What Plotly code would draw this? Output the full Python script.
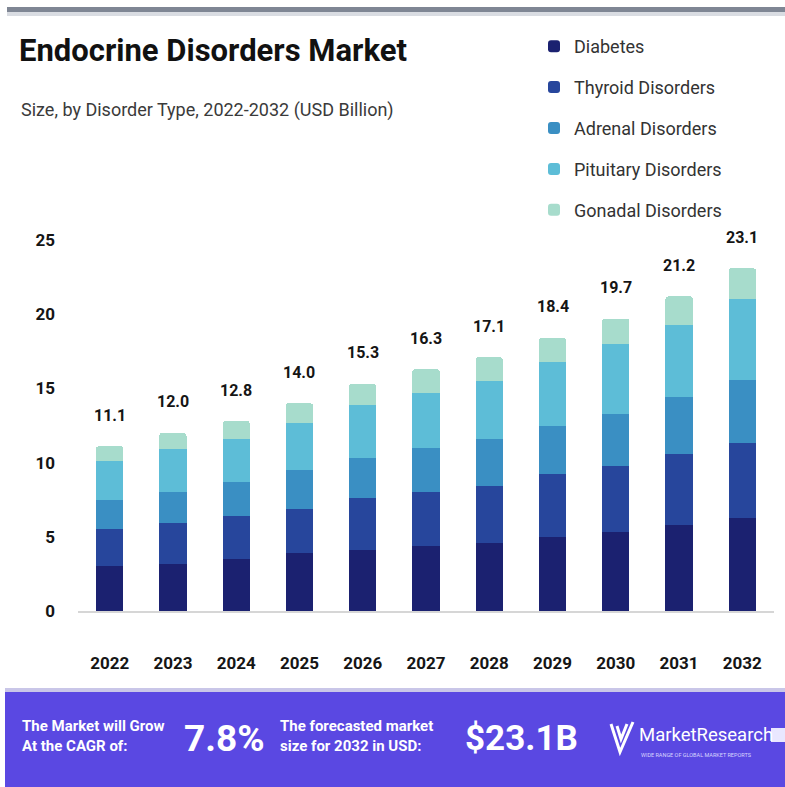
import plotly.graph_objects as go

# Market size by disorder type, USD billion
years = ["2022", "2023", "2024", "2025", "2026", "2027", "2028", "2029", "2030", "2031", "2032"]
diabetes = [3.0, 3.2, 3.5, 3.9, 4.1, 4.4, 4.6, 5.0, 5.3, 5.8, 6.3]
thyroid = [2.5, 2.7, 2.9, 3.0, 3.5, 3.6, 3.8, 4.2, 4.5, 4.8, 5.0]
adrenal = [2.0, 2.1, 2.3, 2.6, 2.7, 3.0, 3.2, 3.3, 3.5, 3.8, 4.3]
pituitary = [2.6, 2.9, 2.9, 3.2, 3.6, 3.7, 3.9, 4.3, 4.7, 4.9, 5.4]
gonadal = [1.0, 1.1, 1.2, 1.3, 1.4, 1.6, 1.6, 1.6, 1.7, 1.9, 2.1]

series = [
    ("Diabetes", diabetes, "#1b2170"),
    ("Thyroid Disorders", thyroid, "#27469c"),
    ("Adrenal Disorders", adrenal, "#3a8fc3"),
    ("Pituitary Disorders", pituitary, "#5dbdd7"),
    ("Gonadal Disorders", gonadal, "#a7dccc"),
]

cagr_text = "7.8%"
forecast_text = "$23.1B"

W, H = 785, 787
L, R, T, B = 78, 774, 240, 611  # plot area in pixels


def px(x):
    return (x - L) / (R - L)


def py(y):
    return (B - y) / (B - T)


FONT = "Roboto"

fig = go.Figure()
for name, vals, color in series:
    fig.add_trace(go.Bar(
        x=years, y=vals, name=name, legendgroup=name,
        marker=dict(color=color, line=dict(width=0)),
    ))

totals = [round(sum(v), 1) for v in zip(*[s[1] for s in series])]

annotations = []
for i, tot in enumerate(totals):
    annotations.append(dict(
        x=i, y=tot, xref="x", yref="y", text=f"<b>{tot:.1f}</b>",
        showarrow=False, yshift=31, font=dict(family=FONT, size=16, color="#151515"),
    ))

# Header
annotations.append(dict(
    x=px(17), y=py(51), xref="paper", yref="paper", xanchor="left", yanchor="middle",
    text="<b>Endocrine Disorders Market</b>", showarrow=False,
    font=dict(family=FONT, size=31, color="#111111"),
))
annotations.append(dict(
    x=px(19), y=py(110), xref="paper", yref="paper", xanchor="left", yanchor="middle",
    text="Size, by Disorder Type, 2022-2032 (USD Billion)", showarrow=False,
    font=dict(family=FONT, size=18, color="#3a3a3a"),
))

# Footer band texts
white = "#ffffff"
annotations += [
    dict(x=px(20), y=py(736), xref="paper", yref="paper", xanchor="left", yanchor="middle",
         text="<b>The Market will Grow<br>At the CAGR of:</b>", showarrow=False, align="left",
         font=dict(family=FONT, size=15, color=white)),
    dict(x=px(182), y=py(738), xref="paper", yref="paper", xanchor="left", yanchor="middle",
         text=f"<b>{cagr_text}</b>", showarrow=False,
         font=dict(family=FONT, size=37, color=white)),
    dict(x=px(278), y=py(736), xref="paper", yref="paper", xanchor="left", yanchor="middle",
         text="<b>The forecasted market<br>size for 2032 in USD:</b>", showarrow=False, align="left",
         font=dict(family=FONT, size=15, color=white)),
    dict(x=px(463), y=py(738), xref="paper", yref="paper", xanchor="left", yanchor="middle",
         text=f"<b>{forecast_text}</b>", showarrow=False,
         font=dict(family=FONT, size=35, color=white)),
    dict(x=px(637), y=py(735), xref="paper", yref="paper", xanchor="left", yanchor="middle",
         text="MarketResearch", showarrow=False,
         font=dict(family=FONT, size=18.5, color=white)),
    dict(x=px(639), y=py(755), xref="paper", yref="paper", xanchor="left", yanchor="middle",
         text="WIDE RANGE OF GLOBAL MARKET REPORTS", showarrow=False,
         font=dict(family=FONT, size=5.5, color="#d9d6ff")),
]

shapes = [
    # top rule
    dict(type="rect", xref="paper", yref="paper", x0=px(7), x1=px(785), y0=py(12), y1=py(7),
         fillcolor="#7f8694", line=dict(width=0), layer="above"),
    dict(type="rect", xref="paper", yref="paper", x0=px(7), x1=px(785), y0=py(16), y1=py(12),
         fillcolor="#d9dce2", line=dict(width=0), layer="above"),
    # footer band
    dict(type="rect", xref="paper", yref="paper", x0=px(5), x1=px(785), y0=py(692), y1=py(688),
         fillcolor="#c9c6e8", line=dict(width=0), layer="above"),
    dict(type="rect", xref="paper", yref="paper", x0=px(5), x1=px(785), y0=py(787), y1=py(692),
         fillcolor="#5a48e2", line=dict(width=0), layer="above"),
    # logo mark
    dict(type="path", xref="paper", yref="paper",
         path=(f"M {px(611)},{py(724)} L {px(620)},{py(752)} L {px(633)},{py(722)} "
               f"M {px(617)},{py(726)} L {px(621)},{py(739)} L {px(627)},{py(724)}"),
         line=dict(color=white, width=3), layer="above"),
    dict(type="rect", xref="paper", yref="paper", x0=px(771), x1=px(785), y0=py(742), y1=py(728),
         fillcolor="#e9e7ff", line=dict(width=0), layer="above"),
]

fig.update_layout(
    width=W, height=H,
    margin=dict(l=L, r=W - R, t=T, b=H - B, pad=0),
    paper_bgcolor="#ffffff", plot_bgcolor="#ffffff",
    barmode="stack", bargap=0.57, barcornerradius=3,
    font=dict(family=FONT, color="#151515"),
    showlegend=True,
    legend=dict(
        x=px(534), y=py(28), xref="paper", yref="paper", xanchor="left", yanchor="top",
        traceorder="grouped", tracegroupgap=14.5, bgcolor="rgba(0,0,0,0)",
        font=dict(family=FONT, size=18, color="#333333"), itemclick=False,
    ),
    xaxis=dict(
        type="category", range=[-0.5, 10.5], showgrid=False, zeroline=False,
        showline=True, linecolor="#d6d6d6", linewidth=2, ticks="",
        tickfont=dict(family=FONT, size=17, color="#151515", weight="bold"),
        ticklabelstandoff=36,
    ),
    yaxis=dict(
        range=[0, 25], tickvals=[0, 5, 10, 15, 20, 25], showgrid=False, zeroline=False,
        showline=False, ticks="",
        tickfont=dict(family=FONT, size=17, color="#151515", weight="bold"),
        ticklabelstandoff=22,
    ),
    annotations=annotations, shapes=shapes,
)

fig.write_html("out.html")
